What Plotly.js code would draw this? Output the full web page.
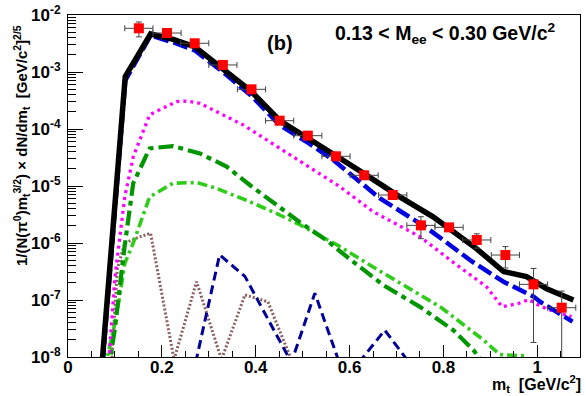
<!DOCTYPE html>
<html>
<head>
<meta charset="utf-8">
<script src="https://cdn.plot.ly/plotly-3.0.1.min.js"></script>
<style>
html,body{margin:0;padding:0;background:#fff;}
#chart{width:586px;height:396px;}
</style>
</head>
<body>
<div id="chart"></div>
<script>
// ---- data ----
var dataX   = [0.151, 0.211, 0.270, 0.330, 0.391, 0.451, 0.511, 0.571, 0.631, 0.692, 0.752, 0.812, 0.871, 0.932, 0.992, 1.052];
var dataY   = [5.84e-3, 4.83e-3, 3.19e-3, 1.33e-3, 4.97e-4, 1.40e-4, 7.64e-5, 3.32e-5, 1.54e-5, 6.95e-6, 2.04e-6, 1.88e-6, 1.13e-6, 6.15e-7, 1.88e-7, 7.33e-8];
var dataEy  = [1.7e-3, 3e-4, 2e-4, 8e-5, 3e-5, 1e-5, 5e-6, 2.5e-6, 1.2e-6, 5e-7, 8.5e-7, 2e-7, 3.2e-7, 2.5e-7, 1.7e-7, 7e-8];
var dataEx  = [0.03, 0.03, 0.03, 0.03, 0.03, 0.03, 0.03, 0.03, 0.03, 0.03, 0.03, 0.03, 0.03, 0.03, 0.03, 0.03];

var totalX = [0.06, 0.122, 0.176, 0.224, 0.270, 0.330, 0.391, 0.451, 0.511, 0.571, 0.636, 0.707, 0.778, 0.835, 0.871, 0.928, 0.977, 1.020, 1.077];
var totalY = [4.0e-10, 8.3e-4, 4.65e-3, 3.75e-3, 2.78e-3, 1.16e-3, 4.52e-4, 1.41e-4, 7.08e-5, 3.39e-5, 1.55e-5, 6.46e-6, 2.88e-6, 1.32e-6, 7.9e-7, 3.16e-7, 2.57e-7, 1.58e-7, 1.0e-7];

var blueX = [0.06, 0.122, 0.176, 0.224, 0.270, 0.330, 0.391, 0.451, 0.511, 0.565, 0.665, 0.760, 0.800, 0.860, 0.928, 0.992, 1.006, 1.063, 1.075];
var blueY = [3.0e-10, 7.1e-4, 4.37e-3, 3.31e-3, 2.40e-3, 1.0e-3, 3.80e-4, 1.17e-4, 5.75e-5, 2.88e-5, 6.03e-6, 1.95e-6, 1.12e-6, 4.79e-7, 2.09e-7, 1.15e-7, 9.33e-8, 4.79e-8, 4.17e-8];

var magX = [0.085, 0.100, 0.121, 0.139, 0.174, 0.231, 0.252, 0.281, 0.374, 0.494, 0.579, 0.650, 0.722, 0.750, 0.821, 0.892, 0.925, 0.960, 0.982, 1.005, 1.035, 1.073];
var magY = [5.0e-9, 2.5e-7, 6.46e-6, 3.24e-5, 1.78e-4, 3.02e-4, 3.09e-4, 2.82e-4, 1.17e-4, 2.69e-5, 9.77e-6, 3.55e-6, 1.70e-6, 1.29e-6, 4.57e-7, 1.70e-7, 7.59e-8, 8.71e-8, 1.02e-7, 7.9e-8, 6.31e-8, 5.13e-8];

var dgreenX = [0.085, 0.100, 0.120, 0.139, 0.174, 0.224, 0.281, 0.338, 0.390, 0.466, 0.498, 0.551, 0.594, 0.672, 0.750, 0.821, 0.864, 0.890];
var dgreenY = [5.0e-9, 3.16e-8, 7.94e-7, 1.12e-5, 4.57e-5, 5.01e-5, 3.72e-5, 2.19e-5, 1.0e-5, 3.31e-6, 2.19e-6, 1.12e-6, 5.75e-7, 1.82e-7, 7.59e-8, 2.95e-8, 1.32e-8, 7.0e-9];

var lgreenX = [0.078, 0.103, 0.121, 0.139, 0.174, 0.224, 0.274, 0.316, 0.380, 0.444, 0.494, 0.579, 0.650, 0.722, 0.793, 0.885, 0.920, 0.974];
var lgreenY = [6.0e-9, 5.13e-8, 4.37e-7, 1.0e-6, 6.46e-6, 1.12e-5, 1.15e-5, 9.12e-6, 5.62e-6, 3.31e-6, 2.09e-6, 8.71e-7, 3.80e-7, 1.70e-7, 7.59e-8, 2.0e-8, 1.10e-8, 1.05e-8];

var brownX = [0.092, 0.105, 0.121, 0.150, 0.176, 0.226, 0.274, 0.327, 0.377, 0.426, 0.476];
var brownY = [6.0e-9, 3.5e-7, 1.0e-6, 1.26e-6, 1.48e-6, 9.0e-9, 2.1e-7, 9.0e-9, 1.23e-7, 9.3e-8, 9.0e-9];

var navyX = [0.272, 0.323, 0.377, 0.476, 0.526, 0.578, null, 0.620, 0.675, 0.727];
var navyY = [8.0e-9, 6.2e-7, 2.6e-7, 8.0e-9, 1.32e-7, 8.0e-9, null, 8.0e-9, 2.95e-8, 8.0e-9];

var yTickVals = [1e-8, 1e-7, 1e-6, 1e-5, 1e-4, 1e-3, 1e-2];
var yTickText = ['10<sup>-8</sup>', '10<sup>-7</sup>', '10<sup>-6</sup>', '10<sup>-5</sup>', '10<sup>-4</sup>', '10<sup>-3</sup>', '10<sup>-2</sup>'];
var xTickVals = [0, 0.2, 0.4, 0.6, 0.8, 1.0];
var xTickText = ['0', '0.2', '0.4', '0.6', '0.8', '1'];

// ---- plotting ----
var F = 'Liberation Sans, Arial, Helvetica, sans-serif';
function line(x, y, color, width, dash) {
  return {x: x, y: y, type: 'scatter', mode: 'lines', hoverinfo: 'skip',
          connectgaps: false,
          line: {color: color, width: width, dash: dash, shape: 'linear'}};
}
var traces = [
  line(brownX, brownY, '#8c5f5f', 3, '2px,2px'),
  line(navyX, navyY, '#000096', 3, '9px,5px'),
  line(lgreenX, lgreenY, '#2fcc1a', 3.6, '10px,4px,3px,4px'),
  line(dgreenX, dgreenY, '#009600', 4.2, '15px,5px,5px,5px'),
  line(magX, magY, '#ff00ff', 3.3, '3px,4px'),
  line(blueX, blueY, '#0000e0', 4.5, '15px,5px'),
  line(totalX, totalY, '#000000', 5.5, 'solid'),
  {x: dataX, y: dataY, type: 'scatter', mode: 'markers', hoverinfo: 'skip',
   marker: {symbol: 'square', size: 10, color: '#ff0000'},
   error_x: {type: 'data', array: dataEx, visible: true, color: '#444', thickness: 1, width: 3},
   error_y: {type: 'data', array: dataEy, visible: true, color: '#444', thickness: 1, width: 3}}
];

var L = 68, R = 580, T = 15, B = 357;
function px(xp) { return (xp - L) / (R - L); }
function py(yp) { return (B - yp) / (B - T); }

var layout = {
  width: 586, height: 396,
  margin: {l: L, r: 586 - R, t: T, b: 396 - B, pad: 0},
  paper_bgcolor: '#fff', plot_bgcolor: '#fff',
  showlegend: false,
  font: {family: F, size: 17, color: '#000', weight: 'bold'},
  xaxis: {
    range: [0, 1.091], showgrid: false, zeroline: false,
    showline: true, mirror: true, linecolor: '#000', linewidth: 1,
    tickmode: 'array', tickvals: xTickVals, ticktext: xTickText,
    ticks: 'inside', ticklen: 12, tickwidth: 1, tickcolor: '#000',
    ticklabelstandoff: -5,
    minor: {dtick: 0.05, tick0: 0, ticks: 'inside', ticklen: 6, tickwidth: 1, tickcolor: '#000', showgrid: false},
    tickfont: {family: F, size: 17, weight: 'bold'}
  },
  yaxis: {
    type: 'log', range: [-8, -2], showgrid: false, zeroline: false,
    showline: true, mirror: true, linecolor: '#000', linewidth: 1,
    tickmode: 'array', tickvals: yTickVals, ticktext: yTickText,
    ticks: 'inside', ticklen: 15, tickwidth: 1, tickcolor: '#000',
    ticklabelstandoff: 3,
    minor: {dtick: 'D1', ticks: 'inside', ticklen: 8, tickwidth: 1, tickcolor: '#000', showgrid: false},
    tickfont: {family: F, size: 17, weight: 'bold'}
  },
  annotations: [
    {xref: 'paper', yref: 'paper', x: px(280), y: py(43), xanchor: 'center', yanchor: 'middle',
     text: '(b)', showarrow: false, font: {family: F, size: 20, weight: 'bold'}},
    {xref: 'paper', yref: 'paper', x: px(445), y: py(33), xanchor: 'center', yanchor: 'middle',
     text: '0.13 &lt; M<sub>ee</sub> &lt; 0.30 GeV/c<sup>2</sup>', showarrow: false,
     font: {family: F, size: 19.5, weight: 'bold'}},
    {xref: 'paper', yref: 'paper', x: px(583), y: py(384), xanchor: 'right', yanchor: 'middle',
     text: 'm<sub>t</sub>  [GeV/c<sup>2</sup>]', showarrow: false,
     font: {family: F, size: 16, weight: 'bold'}},
    {xref: 'paper', yref: 'paper', x: px(21), y: py(146), xanchor: 'center', yanchor: 'middle',
     textangle: -90,
     text: '1/(N(&#960;<sup>0</sup>)m<sub>t</sub><sup>3/2</sup>) &#215; dN/dm<sub>t</sub>  [GeV/c<sup>2</sup>]<sup>2/5</sup>',
     showarrow: false, font: {family: F, size: 15, weight: 'bold'}}
  ]
};

Plotly.newPlot('chart', traces, layout, {displayModeBar: false, staticPlot: true});
</script>
</body>
</html>
